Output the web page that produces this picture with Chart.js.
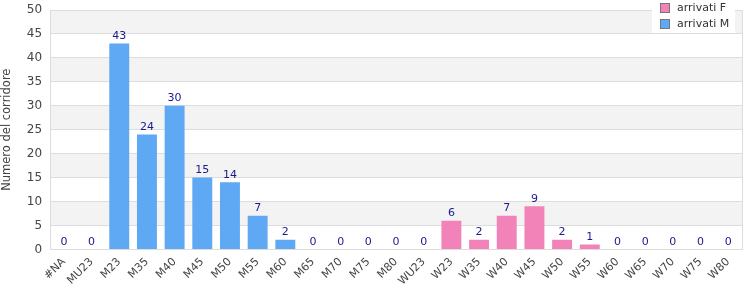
<!DOCTYPE html>
<html>
<head>
<meta charset="utf-8">
<script src="https://cdn.jsdelivr.net/npm/chart.js@4/dist/chart.umd.min.js"></script>
<style>
html,body{margin:0;padding:0;background:#fff;}
#wrap{width:750px;height:300px;position:relative;}
</style>
</head>
<body>
<div id="wrap"><canvas id="c" width="750" height="300"></canvas></div>
<script>
const categories = ["#NA","MU23","M23","M35","M40","M45","M50","M55","M60","M65","M70","M75","M80","WU23","W23","W35","W40","W45","W50","W55","W60","W65","W70","W75","W80"];
const arrivatiF = [0,0,0,0,0,0,0,0,0,0,0,0,0,0,6,2,7,9,2,1,0,0,0,0,0];
const arrivatiM = [0,0,43,24,30,15,14,7,2,0,0,0,0,0,0,0,0,0,0,0,0,0,0,0,0];
const yTicks = [0,5,10,15,20,25,30,35,40,45,50];
const seriesLabels = ["arrivati F","arrivati M"];
const seriesColors = ["#f283b9","#5fa8f3"];

const FONT = "'DejaVu Sans', Verdana, sans-serif";

const bandsPlugin = {
  id: 'bands',
  beforeDraw(chart) {
    const {ctx, chartArea: a, scales: {y}} = chart;
    ctx.save();
    for (let i = 0; i < yTicks.length - 1; i++) {
      if ((yTicks.length - 2 - i) % 2 === 0) {
        const t = y.getPixelForValue(yTicks[i+1]);
        const b = y.getPixelForValue(yTicks[i]);
        ctx.fillStyle = '#f3f3f3';
        ctx.fillRect(a.left, t, a.right - a.left, b - t);
      }
    }
    ctx.restore();
  },
  afterDraw(chart) {
    const {ctx, chartArea: a, scales: {x, y}} = chart;
    ctx.save();
    ctx.strokeStyle = '#dddddd';
    ctx.lineWidth = 1;
    ctx.strokeRect(Math.round(a.left) + 0.5, Math.round(a.top) + 0.5, Math.round(a.right - a.left), Math.round(a.bottom - a.top));
    // value labels
    ctx.font = '11px ' + FONT;
    ctx.fillStyle = '#1a1a8c';
    ctx.textAlign = 'center';
    ctx.textBaseline = 'bottom';
    categories.forEach((c, i) => {
      const total = arrivatiF[i] + arrivatiM[i];
      ctx.fillText(String(total), x.getPixelForValue(i), y.getPixelForValue(total) - 2);
    });
    // legend
    const lx = 652, ly = 0, lw = 83, lh = 33;
    ctx.fillStyle = '#ffffff';
    ctx.fillRect(lx, ly, lw, lh);
    ctx.textAlign = 'left';
    ctx.textBaseline = 'middle';
    seriesLabels.forEach((lab, k) => {
      const by = 3 + k * 16;
      ctx.fillStyle = seriesColors[k];
      ctx.fillRect(660, by, 10, 10);
      ctx.strokeStyle = '#777';
      ctx.strokeRect(660.5, by + 0.5, 9, 9);
      ctx.fillStyle = '#333';
      ctx.fillText(lab, 677, by + 5);
    });
    ctx.restore();
  }
};

new Chart(document.getElementById('c'), {
  type: 'bar',
  data: {
    labels: categories,
    datasets: [
      {label: seriesLabels[0], data: arrivatiF, backgroundColor: seriesColors[0], categoryPercentage: 0.8, barPercentage: 0.9},
      {label: seriesLabels[1], data: arrivatiM, backgroundColor: seriesColors[1], categoryPercentage: 0.8, barPercentage: 0.9}
    ]
  },
  options: {
    responsive: false,
    animation: false,
    layout: {padding: {top: 0, right: 8, bottom: 6, left: 0}},
    plugins: {legend: {display: false}, tooltip: {enabled: false}},
    scales: {
      x: {
        stacked: true,
        grid: {display: false, drawTicks: false},
        border: {display: false},
        ticks: {minRotation: 45, maxRotation: 45, autoSkip: false, color: '#444', font: {family: FONT, size: 11}, padding: 6}
      },
      y: {
        stacked: true,
        min: 0, max: 50,
        afterBuildTicks(s) { s.ticks = yTicks.map(v => ({value: v})); },
        afterFit(s) { s.paddingTop = 10; },
        grid: {color: '#dddddd', drawTicks: false},
        border: {display: false},
        ticks: {color: '#444', font: {family: FONT, size: 12}, padding: 8},
        title: {display: true, text: 'Numero del corridore', color: '#444', font: {family: FONT, size: 11.5}, padding: {top: 0, bottom: 5}}
      }
    }
  },
  plugins: [bandsPlugin]
});
</script>
</body>
</html>
